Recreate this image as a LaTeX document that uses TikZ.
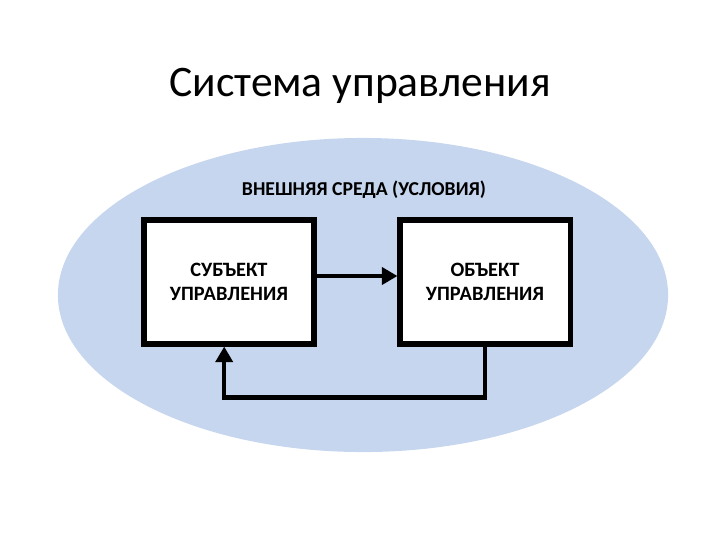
\documentclass[tikz,border=0pt]{standalone}
\usepackage{fontspec}
\setmainfont{Carlito}
\usetikzlibrary{positioning, arrows.meta, shapes.geometric}
\definecolor{envblue}{RGB}{198,214,238}

\begin{document}
\begin{tikzpicture}[
  x=0.025cm, y=-0.025cm,
  box/.style={draw, line width=3.6pt, fill=white, minimum width=4.25cm,
              minimum height=3.1cm, align=center,
              font=\bfseries\fontsize{14.5}{17}\selectfont},
  arrow/.style={-{Triangle[length=11pt, width=12pt]}, line width=3.2pt}
]
\useasboundingbox (0,0) rectangle (720,540);

% ── Title ─────────────────────────────────────────────────
\node (title) at (360,86) {\fontsize{31}{37}\selectfont Система управления};

% ── Environment ───────────────────────────────────────────
\node[ellipse, fill=envblue, minimum width=15.25cm, minimum height=7.85cm]
      (env) at (363,295) {};
\node[font=\bfseries\fontsize{14}{16}\selectfont] (envlabel) at (364,190)
      {ВНЕШНЯЯ СРЕДА (УСЛОВИЯ)};

% ── Boxes ─────────────────────────────────────────────────
\node[box] (subj) at (229,282) {СУБЪЕКТ\\УПРАВЛЕНИЯ};
\node[box] (obj)  at (485,282) {ОБЪЕКТ\\УПРАВЛЕНИЯ};

% ── Arrows ────────────────────────────────────────────────
\draw[arrow] ([yshift=0.15cm]subj.east) -- ([yshift=0.15cm]obj.west);
\draw[arrow] (obj.south) -- ++(0,51) -| ([xshift=-0.12cm]subj.south);

\end{tikzpicture}
\end{document}
